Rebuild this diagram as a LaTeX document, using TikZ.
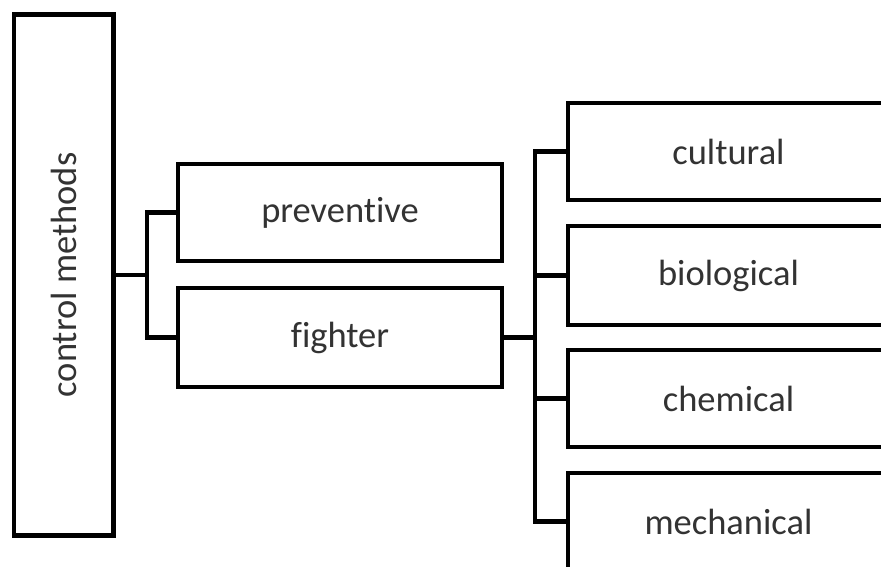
\documentclass[tikz,border=0pt]{standalone}
\usepackage{fontspec}
\setmainfont[Ligatures={NoCommon}]{Carlito}
\definecolor{inkline}{HTML}{000000}
\definecolor{inktext}{HTML}{333333}
\tikzset{
  x=1pt, y=-1pt,
  box/.style={draw=inkline, line width=4.5pt, fill=white, inner sep=0pt,
    line join=miter, font=\fontsize{36.5}{44}\selectfont, text=inktext},
  link/.style={draw=inkline, line width=4.5pt, line join=miter}
}
\begin{document}
\begin{tikzpicture}
\useasboundingbox (0,0) rectangle (881,566);
\clip (0,0) rectangle (881,566);

% root box with vertical label
\node[box, minimum width=99.5pt, minimum height=521pt] (root) at (63.75,275) {};
\node[font=\fontsize{36.5}{44}\selectfont, text=inktext, rotate=90] (roottext) at (root.center) {control methods};

% second level
\node[box, minimum width=324pt, minimum height=97pt] (prev) at (340,212.5) {preventive};
\node[box, minimum width=324pt, minimum height=99pt] (fight) at (340,337.5) {fighter};

% third level (boxes run past the right edge)
\node[box, minimum width=321pt, minimum height=97pt] (cult) at (728.5,151.5) {cultural};
\node[box, minimum width=321pt, minimum height=99pt] (bio) at (728.5,275.5) {biological};
\node[box, minimum width=321pt, minimum height=97pt] (chem) at (728.5,398.5) {chemical};
\node[box, minimum width=321pt, minimum height=97pt] (mech) at (728.5,521.5) {mechanical};

% junction points
\coordinate (j1) at (147,275);
\coordinate (j2) at (535,337.5);

% connectors
\draw[link] (root.east) -- (j1);
\draw[link] (prev.west) -| (j1) |- (fight.west);
\draw[link] (fight.east) -- (j2);
\draw[link] (cult.west) -| (j2) |- (mech.west);
\draw[link] (j2) |- (bio.west);
\draw[link] (j2) |- (chem.west);
\end{tikzpicture}
\end{document}
